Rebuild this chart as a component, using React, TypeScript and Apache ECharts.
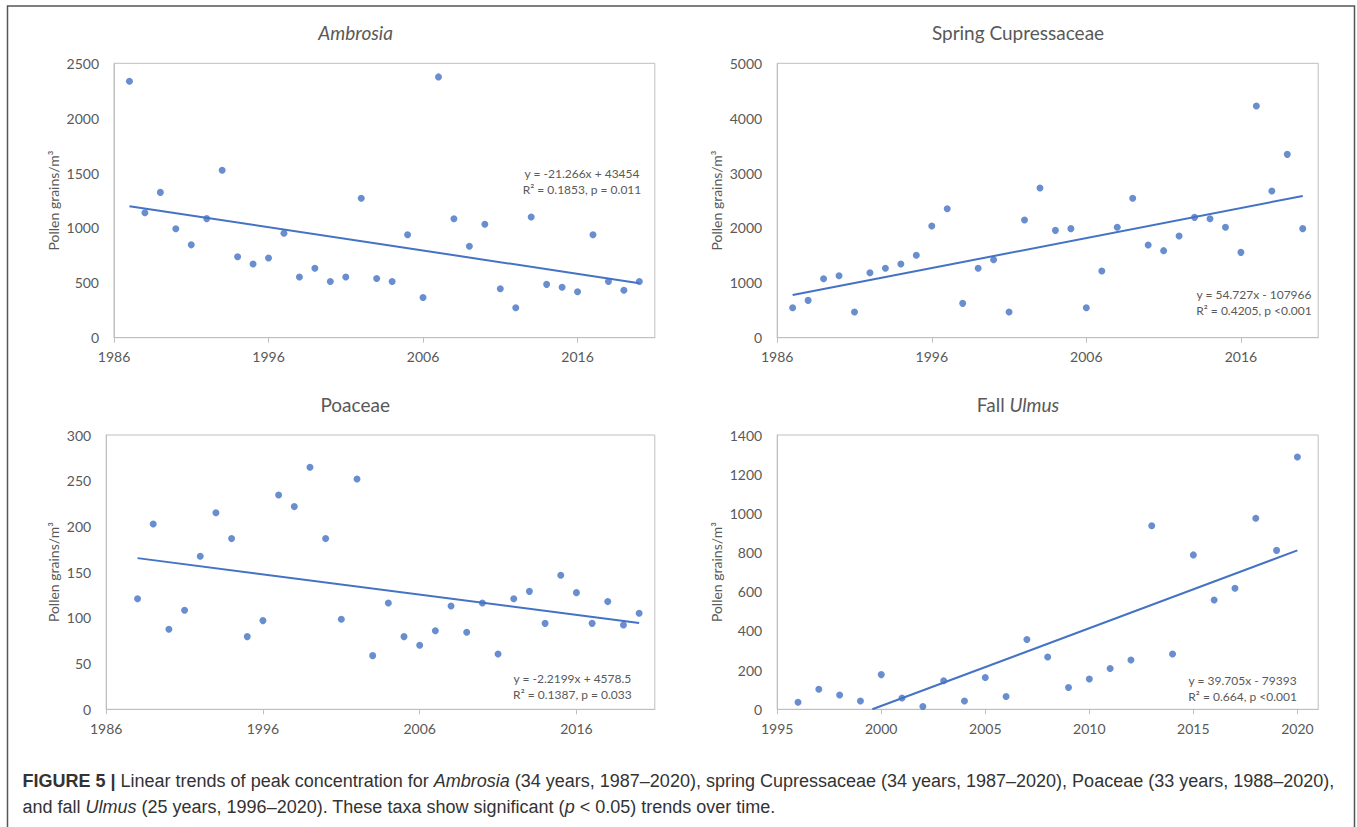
import React, { useEffect, useRef } from "react";
import * as echarts from "echarts";

// ---------- data ----------
const ambrosiaYears = [1987, 1988, 1989, 1990, 1991, 1992, 1993, 1994, 1995, 1996, 1997, 1998, 1999, 2000, 2001, 2002, 2003, 2004, 2005, 2006, 2007, 2008, 2009, 2010, 2011, 2012, 2013, 2014, 2015, 2016, 2017, 2018, 2019, 2020];
const ambrosiaValues = [2336, 1139, 1324, 993, 846, 1085, 1525, 738, 671, 726, 951, 553, 632, 512, 553, 1271, 540, 512, 938, 366, 2376, 1084, 833, 1033, 446, 273, 1099, 486, 459, 418, 938, 512, 433, 512];

const cupressYears = [1987, 1988, 1989, 1990, 1991, 1992, 1993, 1994, 1995, 1996, 1997, 1998, 1999, 2000, 2001, 2002, 2003, 2004, 2005, 2006, 2007, 2008, 2009, 2010, 2011, 2012, 2013, 2014, 2015, 2016, 2017, 2018, 2019, 2020];
const cupressValues = [547, 680, 1075, 1130, 468, 1185, 1264, 1343, 1501, 2035, 2351, 626, 1264, 1422, 468, 2145, 2728, 1956, 1987, 547, 1215, 2011, 2540, 1689, 1586, 1853, 2193, 2169, 2011, 1555, 4222, 2673, 3341, 1987];

const poaceaeYears = [1988, 1989, 1990, 1991, 1992, 1993, 1994, 1995, 1996, 1997, 1998, 1999, 2000, 2001, 2002, 2003, 2004, 2005, 2006, 2007, 2008, 2009, 2010, 2011, 2012, 2013, 2014, 2015, 2016, 2017, 2018, 2019, 2020];
const poaceaeValues = [121, 202.7, 87.5, 108.3, 167.3, 215, 186.7, 79.5, 97, 234.4, 221.7, 264.7, 186.7, 98.4, 251.9, 58.7, 116.3, 79.5, 70, 86, 113, 84.2, 116.3, 60.5, 121, 129, 94, 146.6, 127.6, 94, 117.8, 92.2, 105];

const ulmusYears = [1996, 1997, 1998, 1999, 2000, 2001, 2002, 2003, 2004, 2005, 2006, 2007, 2008, 2009, 2010, 2011, 2012, 2013, 2014, 2015, 2016, 2017, 2018, 2019, 2020];
const ulmusValues = [36, 102, 73, 42, 177, 58, 14, 146, 42, 162, 65, 356, 267, 111, 155, 208, 252, 937, 282, 788, 558, 618, 975, 811, 1288];

// trend line coefficients (slope, intercept) as printed on the chart
const trendSlopes = [-21.266, 54.727, -2.2199, 39.705];
const trendIntercepts = [43454, -107966, 4578.5, -79393];

const panelTitles = ["{i|Ambrosia}", "{n|Spring Cupressaceae}", "{n|Poaceae}", "{n|Fall }{i|Ulmus}"];
const equationLine1 = ["y = -21.266x + 43454", "y = 54.727x - 107966", "y = -2.2199x + 4578.5", "y = 39.705x - 79393"];
const equationLine2 = ["R\u00b2 = 0.1853, p = 0.011", "R\u00b2 = 0.4205, p <0.001", "R\u00b2 = 0.1387, p = 0.033", "R\u00b2 = 0.664, p <0.001"];

const xMins = [1986, 1986, 1986, 1995];
const xMaxs = [2021, 2021, 2021, 2021];
const xIntervals = [10, 10, 10, 5];
const xTickValues = [
  [1986, 1996, 2006, 2016],
  [1986, 1996, 2006, 2016],
  [1986, 1996, 2006, 2016],
  [1995, 2000, 2005, 2010, 2015, 2020],
];
const yMaxs = [2500, 5000, 300, 1400];
const yIntervals = [500, 1000, 50, 200];
const yAxisName = "Pollen grains/m\u00b3";

const captionLine1 =
  "{b|FIGURE 5 |} Linear trends of peak concentration for {i|Ambrosia} (34 years, 1987\u20132020), spring Cupressaceae (34 years, 1987\u20132020), Poaceae (33 years, 1988\u20132020),";
const captionLine2 =
  "and fall {i|Ulmus} (25 years, 1996\u20132020). These taxa show significant ({i|p} < 0.05) trends over time.";

// ---------- layout ----------
const grids = [
  { left: 114, top: 63.3, width: 540.8, height: 274.4 },
  { left: 777.2, top: 63.3, width: 541, height: 274.4 },
  { left: 106.2, top: 435, width: 548.6, height: 274.3 },
  { left: 777.2, top: 435, width: 541, height: 274.3 },
];
const nameGaps = [54, 54, 46, 54];
const titlePos = [
  [355.6, 32],
  [1018, 32],
  [355.2, 404],
  [1018, 404],
];
const eqPos = [
  [582, 173],
  [1254, 294],
  [572.4, 678],
  [1242.6, 680],
];

const BLUE = "#4472C4";
const GRAY_TEXT = "#595959";
const GRID_LINE = "#BFBFBF";
const FONT = "Lato";
const CAP_FONT = "Liberation Sans";
const CAP_SIZE = 18;
const CAP_COLOR = "#333333";

export default function App() {
  const ref = useRef<HTMLDivElement>(null);

  useEffect(() => {
    if (!ref.current) return;
    const chart = echarts.init(ref.current, null, { renderer: "svg" });

    const years = [ambrosiaYears, cupressYears, poaceaeYears, ulmusYears];
    const values = [ambrosiaValues, cupressValues, poaceaeValues, ulmusValues];

    const series: any[] = [];
    years.forEach((ys, i) => {
      series.push({
        type: "scatter",
        xAxisIndex: i,
        yAxisIndex: i,
        symbolSize: 7,
        itemStyle: { color: BLUE },
        data: ys.map((y, k) => [y, values[i][k]]),
        z: 3,
      });
      const a = trendSlopes[i];
      const b = trendIntercepts[i];
      let x0 = ys[0];
      if (a * x0 + b < 0) x0 = -b / a;
      const x1 = ys[ys.length - 1];
      series.push({
        type: "line",
        xAxisIndex: i,
        yAxisIndex: i,
        symbol: "none",
        lineStyle: { color: BLUE, width: 2 },
        data: [
          [x0, a * x0 + b],
          [x1, a * x1 + b],
        ],
        z: 2,
      });
    });

    const graphic: any[] = [
      {
        type: "rect",
        shape: { x: 7.5, y: 6, width: 1347, height: 900 },
        style: { fill: "none", stroke: "#555555", lineWidth: 1.5 },
        silent: true,
      },
    ];
    titlePos.forEach((p, i) => {
      graphic.push({
        type: "text",
        x: p[0],
        y: p[1],
        style: {
          text: panelTitles[i],
          align: "center",
          verticalAlign: "middle",
          rich: {
            n: { fontFamily: FONT, fontSize: 19, fill: GRAY_TEXT, color: GRAY_TEXT },
            i: { fontFamily: FONT, fontSize: 19, fontStyle: "italic", fill: GRAY_TEXT, color: GRAY_TEXT },
          },
        },
      });
    });
    eqPos.forEach((p, i) => {
      graphic.push({
        type: "text",
        x: p[0],
        y: p[1],
        style: {
          text: equationLine1[i],
          align: "center",
          verticalAlign: "middle",
          fontFamily: FONT,
          fontSize: 12,
          fill: GRAY_TEXT,
        },
      });
      graphic.push({
        type: "text",
        x: p[0],
        y: p[1] + 16,
        style: {
          text: equationLine2[i],
          align: "center",
          verticalAlign: "middle",
          fontFamily: FONT,
          fontSize: 12,
          fill: GRAY_TEXT,
        },
      });
    });
    const capRich = {
      b: { fontFamily: CAP_FONT, fontSize: CAP_SIZE, fontWeight: "bold", fill: CAP_COLOR, color: CAP_COLOR },
      i: { fontFamily: CAP_FONT, fontSize: CAP_SIZE, fontStyle: "italic", fill: CAP_COLOR, color: CAP_COLOR },
    };
    [captionLine1, captionLine2].forEach((t, k) => {
      graphic.push({
        type: "text",
        x: 22.5,
        y: k === 0 ? 781 : 807,
        style: {
          text: t,
          align: "left",
          verticalAlign: "middle",
          fontFamily: CAP_FONT,
          fontSize: CAP_SIZE,
          fill: CAP_COLOR,
          rich: capRich,
        },
      });
    });

    const plain = (v: number) => String(v);

    chart.setOption({
      animation: false,
      backgroundColor: "#ffffff",
      grid: grids.map((g) => ({
        ...g,
        show: true,
        borderColor: GRID_LINE,
        borderWidth: 1,
        backgroundColor: "transparent",
        containLabel: false,
      })),
      xAxis: grids.map((_, i) => ({
        type: "value",
        gridIndex: i,
        min: xMins[i],
        max: xMaxs[i],
        interval: xIntervals[i],
        axisLine: { show: true, lineStyle: { color: GRID_LINE, width: 1 } },
        axisTick: {
          show: true,
          length: 5,
          inside: false,
          customValues: xTickValues[i],
          lineStyle: { color: GRID_LINE },
        },
        axisLabel: {
          customValues: xTickValues[i],
          formatter: plain,
          color: GRAY_TEXT,
          fontFamily: FONT,
          fontSize: 14,
          margin: 12,
        },
        splitLine: { show: false },
      })),
      yAxis: grids.map((_, i) => ({
        type: "value",
        gridIndex: i,
        min: 0,
        max: yMaxs[i],
        interval: yIntervals[i],
        name: yAxisName,
        nameLocation: "middle",
        nameGap: nameGaps[i],
        nameRotate: 90,
        nameTextStyle: { color: GRAY_TEXT, fontFamily: FONT, fontSize: 14 },
        axisLine: { show: true, lineStyle: { color: GRID_LINE, width: 1 } },
        axisTick: { show: false },
        axisLabel: { formatter: plain, color: GRAY_TEXT, fontFamily: FONT, fontSize: 14, margin: 15 },
        splitLine: { show: false },
      })),
      series,
      graphic,
    });

    return () => chart.dispose();
  }, []);

  return (
    <div
      ref={ref}
      style={{ position: "absolute", left: 0, top: 0, width: 1357, height: 827, background: "#fff" }}
    />
  );
}
